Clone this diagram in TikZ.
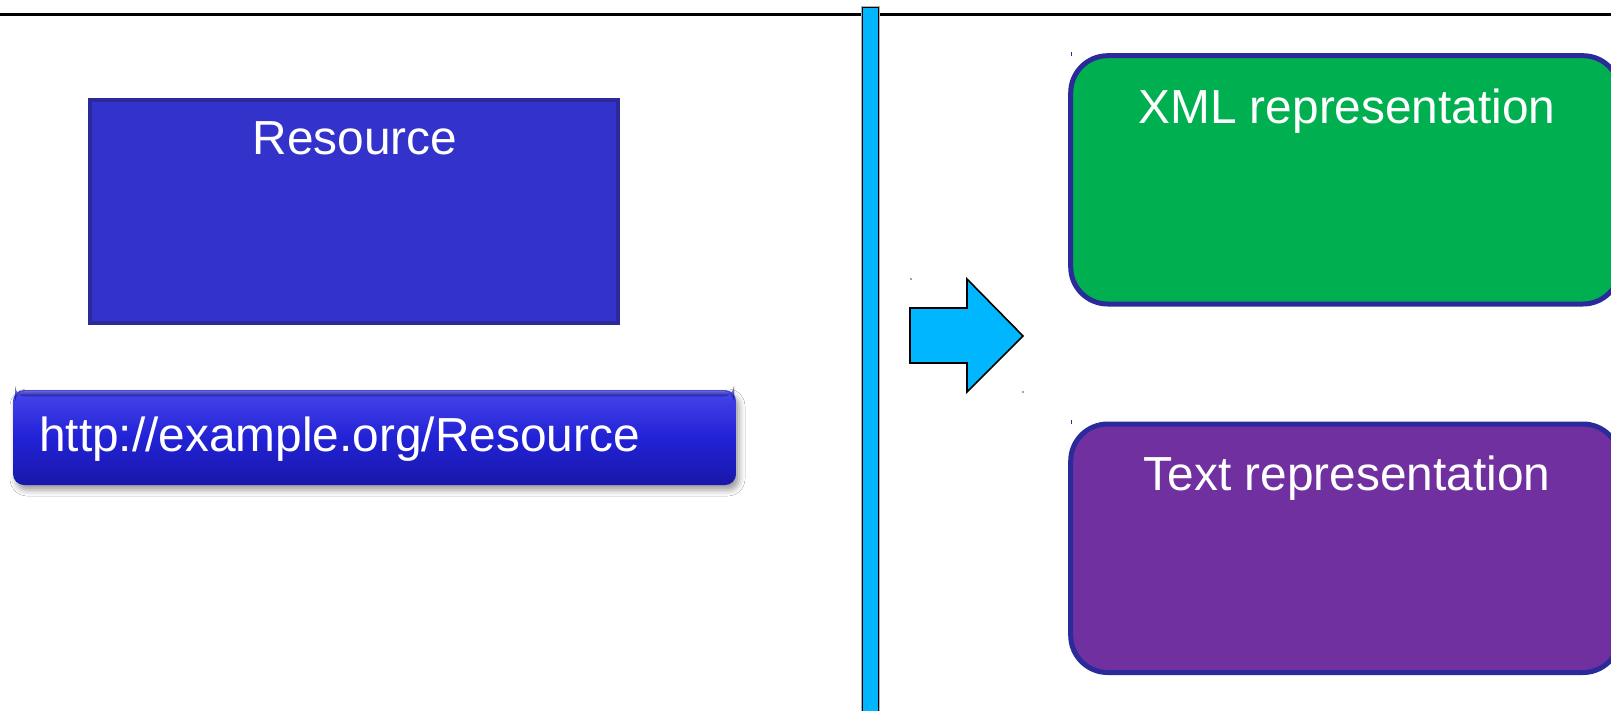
\documentclass[tikz,border=0pt]{standalone}
\usepackage{fontspec}
\setmainfont{Liberation Sans}
\usetikzlibrary{shadows,shadows.blur}

\definecolor{skyfill}{RGB}{0,182,255}
\definecolor{resfill}{RGB}{51,51,204}
\definecolor{resedge}{RGB}{42,42,154}
\definecolor{xmlfill}{RGB}{0,176,80}
\definecolor{txtfill}{RGB}{112,48,160}
\definecolor{btntop}{RGB}{70,70,235}
\definecolor{btnmid}{RGB}{34,34,214}
\definecolor{btnbot}{RGB}{24,24,170}

\tikzset{
  bigtext/.style={text=white, font=\fontsize{47.8}{57}\selectfont, inner sep=0pt},
  reprbox/.style={draw=resedge, line width=5pt, rounded corners=37pt},
  skyshape/.style={fill=skyfill, draw=black, line width=1.6pt, line join=miter},
}

\begin{document}
\begin{tikzpicture}[x=1pt, y=-1pt]
  \useasboundingbox (0,0) rectangle (1611,710);
  \clip (0,0) rectangle (1611,710);
  \fill[white] (0,0) rectangle (1611,710);

  % header rule
  \draw[line width=3.3pt] (0,14.7) -- (1611,14.7);

  % vertical divider
  \draw[gray!60, line width=3pt] (862.5,7.5) rectangle (878.5,720);
  \draw[skyshape] (862.5,7.5) rectangle (878.5,720);

  % resource block
  \draw[fill=resfill, draw=resedge, line width=4.5pt]
    (90,100) rectangle (618,323);
  \node[bigtext, anchor=base] (res) at (355,154) {Resource};

  % URI button
  \path[blur shadow={shadow xshift=3pt, shadow yshift=-5pt, shadow blur radius=6pt, shadow opacity=40},
        rounded corners=11pt, top color=btntop, bottom color=btnbot, middle color=btnmid]
    (13,390) rectangle (736,485);
  \fill[rounded corners=10pt, top color=btntop!70!white, bottom color=btnmid, opacity=0.8]
    (15,391) rectangle (734,396);
  \node[bigtext, anchor=base west] (uri) at (39,451) {http://example.org/Resource};

  % arrow
  \draw[skyshape] (910,308) -- (967,308) -- (967,279) -- (1023,336)
    -- (967,392) -- (967,363) -- (910,363) -- cycle;

  % representations
  \draw[reprbox, fill=xmlfill] (1070.7,55.7) rectangle (1620,304);
  \node[bigtext, anchor=base] (xml) at (1347,123) {XML representation};

  \draw[reprbox, fill=txtfill] (1070.7,424) rectangle (1620,672.5);
  \node[bigtext, anchor=base] (txt) at (1347,490) {Text representation};

  % small corner ticks
  \draw[resedge, line width=1pt] (1071,52) -- (1071,56);
  \draw[resedge, line width=1pt] (1071,420) -- (1071,424);
  \fill[black!70] (911,279) circle (0.8);
  \fill[black!70] (1023,392) circle (0.8);
\end{tikzpicture}
\end{document}
